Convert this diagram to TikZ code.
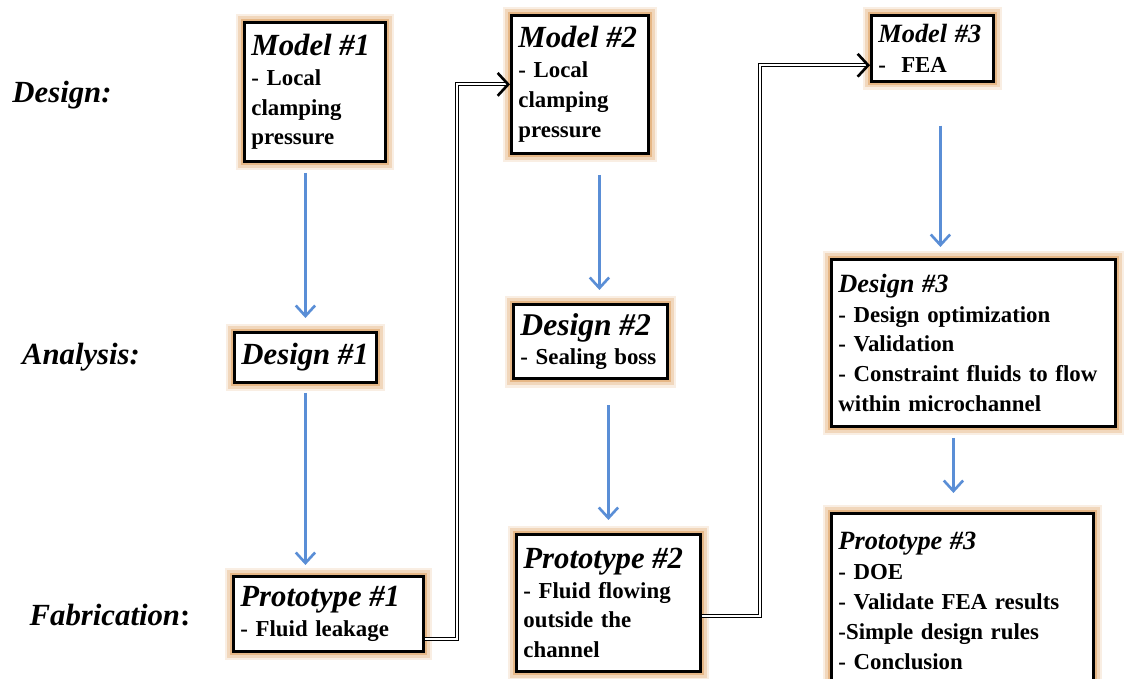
\documentclass[tikz,border=0pt]{standalone}
\usepackage{fontspec}
\setmainfont[WordSpace=0.7]{Liberation Serif}
\usetikzlibrary{arrows.meta, calc, decorations.markings}
\definecolor{glow}{RGB}{222,162,98}
\definecolor{flowblue}{RGB}{90,142,214}
\newcommand{\boxLine}{1.6pt}
\newcommand{\flowLine}{1.5pt}
\newcommand{\flowTip}{{Straight Barb[length=6pt, width=11pt]}}
\newcommand{\linkTip}{Straight Barb[length=6pt, width=13pt]}
\newcommand{\stageTitle}[2][17.5]{{\fontsize{#1}{17}\selectfont\itshape #2}}
\tikzstyle{stage}=[draw=black, line width=\boxLine, fill=white, align=left, anchor=north west,
  inner xsep=4pt, inner ysep=5pt, font=\fontsize{13}{17}\selectfont\bfseries,
  preaction={draw=glow, line width=10pt, opacity=0.18},
  preaction={draw=glow, line width=7pt, opacity=0.3},
  preaction={draw=glow, line width=4pt, opacity=0.6}]
\tikzstyle{phase}=[font=\fontsize{17.5}{20}\selectfont\bfseries\itshape, inner sep=0]
\tikzstyle{flow}=[draw=flowblue, line width=\flowLine, -\flowTip]
\tikzstyle{link}=[draw=black, line width=0.6pt, double, double distance=1.2pt, shorten >=1pt,
  postaction={decorate, decoration={markings, mark=at position 1 with {\arrow[line width=1.5pt, black]{\linkTip}}}}]

\begin{document}
\begin{tikzpicture}

\useasboundingbox (0,0) rectangle (22.48,13.58);

% Phase labels
\node[phase] (labDesign) at (1.24,11.68) {Design:};
\node[phase] (labAnalysis) at (1.62,6.44) {Analysis:};
\node[phase] (labFab) at (2.2,1.28) {Fabrication{\upshape :}};

% Models
\node[stage, text width=2.54cm, minimum height=2.78cm] (m1) at (4.86,13.16)
  {\stageTitle{Model~\#1}\\- Local\\clamping\\pressure};
\node[stage, text width=2.46cm, minimum height=2.76cm] (m2) at (10.2,13.3)
  {\stageTitle{Model~\#2}\\- Local\\clamping\\pressure};
\node[stage, text width=2.16cm, minimum height=1.26cm] (m3) at (17.4,13.3)
  {\stageTitle[15]{Model~\#3}\\-\ \ FEA};

% Designs
\node[stage, text width=2.56cm, minimum height=1.0cm] (d1) at (4.66,6.96)
  {\stageTitle{Design~\#1}};
\node[stage, text width=2.8cm, minimum height=1.44cm] (d2) at (10.24,7.52)
  {\stageTitle[18]{Design~\#2}\\- Sealing~boss};
\node[stage, text width=5.4cm, minimum height=3.34cm] (d3) at (16.6,8.42)
  {\stageTitle[15]{Design \#3}\\- Design optimization\\- Validation\\- Constraint fluids to flow\\within microchannel};

% Prototypes
\node[stage, text width=3.52cm, minimum height=1.5cm] (p1) at (4.64,2.08)
  {\stageTitle{Prototype~\#1}\\- Fluid leakage};
\node[stage, text width=3.4cm, minimum height=2.74cm] (p2) at (10.3,2.92)
  {\stageTitle{Prototype~\#2}\\- Fluid flowing\\outside the\\channel};
\node[stage, text width=4.96cm, minimum height=3.5cm] (p3) at (16.6,3.34)
  {\stageTitle[15]{Prototype \#3}\\- DOE\\- Validate FEA results\\-Simple design rules\\- Conclusion};

% Flow inside each model
\draw[flow, shorten <=0.2cm, shorten >=0.26cm] (m1.south -| d1.north) -- (d1.north);
\draw[flow, shorten <=0.18cm, shorten >=0.2cm] (d1.south) -- (d1.south |- p1.north);
\draw[flow, shorten <=0.4cm, shorten >=0.26cm] ($(m2.south -| d2.north)+(0.18,0)$) -- ($(d2.north)+(0.18,0)$);
\draw[flow, shorten <=0.5cm, shorten >=0.26cm] (d2.south -| p2.north) -- (p2.north);
\draw[flow, shorten <=0.86cm, shorten >=0.22cm] ($(m3.south)+(0.16,0)$) -- ($(d3.north -| m3.south)+(0.16,0)$);
\draw[flow, shorten <=0.2cm, shorten >=0.38cm] ($(d3.south -| p3.north)+(-0.18,0)$) -- ($(p3.north)+(-0.18,0)$);

% Links to the next model
\draw[link] ([yshift=-0.5cm]p1.east) -- ++(0.64,0) |- (m2.west);
\draw[link] ([yshift=-0.26cm]p2.east) -- ++(1.16,0) |- ([yshift=-0.34cm]m3.west);

\end{tikzpicture}
\end{document}
